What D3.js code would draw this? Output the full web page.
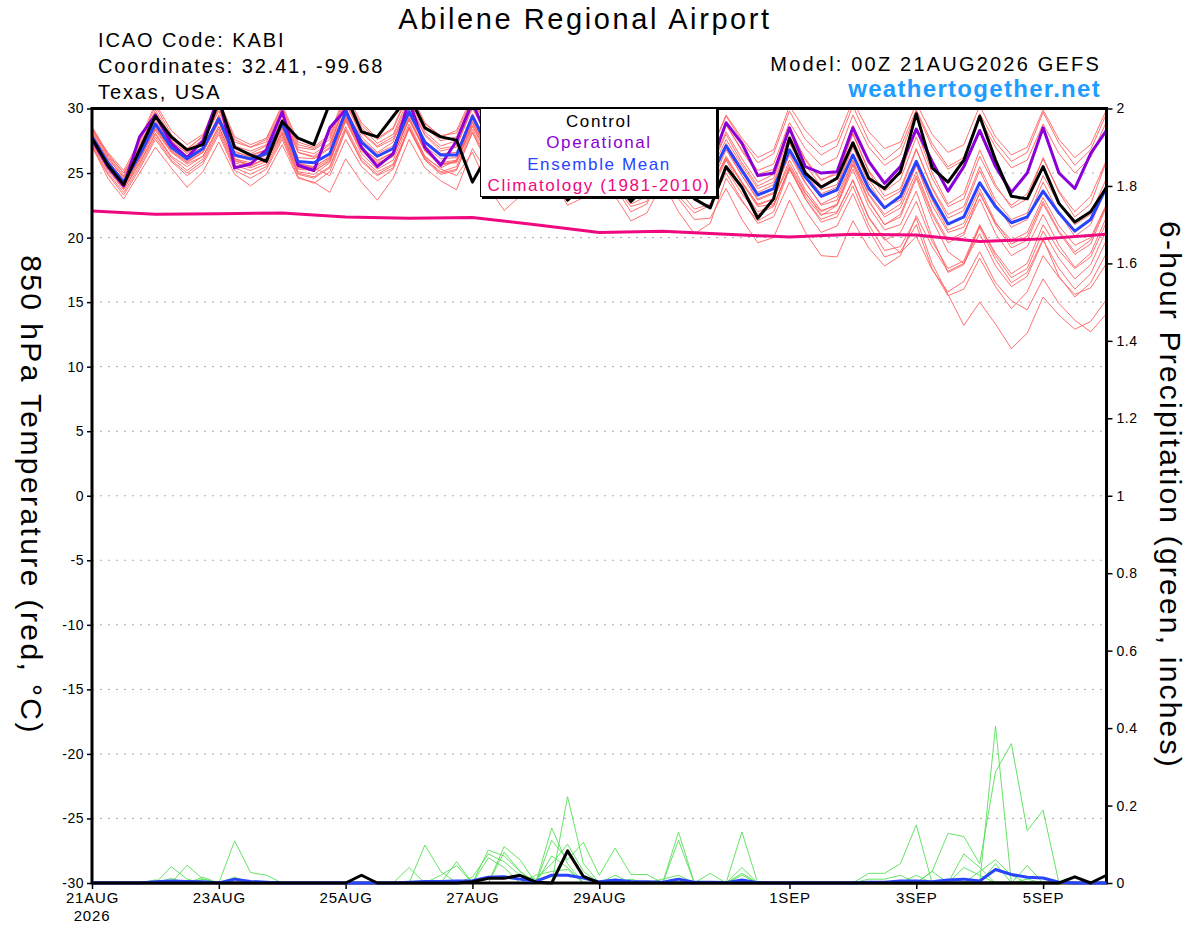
<!DOCTYPE html>
<html><head><meta charset="utf-8">
<script src="https://cdn.jsdelivr.net/npm/d3@7/dist/d3.min.js"></script>
<style>
body{margin:0;background:#fff;}
svg{display:block;font-family:"Liberation Sans",Arial,Helvetica,sans-serif;}
</style>
</head><body>
<svg id="chart" width="1200" height="927"></svg>
<script>
// ---------- DATA ----------
const forecastHours = [0,6,12,18,24,30,36,42,48,54,60,66,72,78,84,90,96,102,108,114,120,126,132,138,144,150,156,162,168,174,180,186,192,198,204,210,216,222,228,234,240,246,252,258,264,270,276,282,288,294,300,306,312,318,324,330,336,342,348,354,360,366,372,378,384];
const climHours = [0,24,48,72,96,120,144,168,192,216,240,264,288,312,336,360,384];
const climatology = [22.05,21.8,21.85,21.9,21.6,21.5,21.55,21.0,20.4,20.5,20.25,20.05,20.25,20.2,19.7,19.9,20.25];

const control = [27.7,25.6,24.1,26.8,29.4,27.8,26.8,27.2,30.6,27.0,26.4,25.9,29.0,27.7,27.2,30.4,31.0,28.2,27.8,29.4,31.0,28.5,27.8,27.55,24.3,26.5,24.5,25.5,27.5,25.0,22.9,24.0,27.0,24.5,22.8,24.0,26.5,24.5,23.0,22.3,25.5,23.9,21.5,23.0,27.7,25.0,23.9,24.6,27.35,24.6,23.8,25.1,29.6,25.4,24.3,26.0,29.4,26.0,23.2,23.0,25.5,22.65,21.2,22.0,23.9];
const operational = [27.6,25.5,24.0,27.8,29.5,27.3,26.2,27.5,31.0,25.4,25.7,26.8,29.75,25.6,25.2,28.5,29.9,27.0,25.5,26.5,30.6,27.0,25.6,27.5,30.5,27.5,26.0,27.0,29.5,27.0,25.5,26.5,29.0,26.5,25.0,26.0,28.5,26.0,24.8,25.5,28.9,27.3,24.8,25.0,28.5,25.5,25.0,25.1,28.5,25.9,24.2,25.5,28.4,25.9,23.6,25.5,28.3,25.5,23.5,25.0,28.5,25.0,23.8,26.5,28.3];
const ensembleMean = [27.8,25.8,24.3,26.4,28.8,27.0,26.1,26.9,29.2,26.4,26.1,26.5,28.85,25.9,25.8,26.5,29.75,27.4,26.3,26.9,29.75,27.4,26.4,26.4,29.4,27.0,25.8,26.3,28.8,26.6,25.3,25.8,28.3,26.0,24.8,25.3,27.8,25.6,24.3,24.6,27.1,25.2,23.3,23.8,26.8,24.7,23.2,23.7,26.4,23.8,22.3,23.2,25.9,23.2,21.05,21.6,24.25,22.4,21.15,21.6,23.6,21.9,20.5,21.4,23.9];

const member01 = [28.6,26.5,25.0,27.3,30.2,28.0,26.8,27.9,30.5,27.6,27.0,27.6,30.1,27.2,26.9,27.8,31.0,28.7,27.6,28.4,31.2,28.8,27.9,28.1,30.8,28.5,27.4,27.9,30.4,28.0,26.8,27.5,30.0,27.6,26.5,27.0,29.6,27.4,26.0,26.6,29.4,27.5,25.8,26.5,29.8,27.6,26.4,27.1,30.2,27.5,26.0,27.0,29.9,27.3,25.5,26.2,29.2,27.0,25.4,26.0,28.8,26.5,25.0,26.2,29.0];
const member02 = [27.0,24.9,23.3,25.3,27.6,25.9,24.8,25.7,28.0,25.2,24.6,25.3,27.6,24.7,24.2,25.1,28.3,25.9,24.8,25.4,28.4,26.0,24.9,25.2,28.2,25.8,24.4,25.0,27.6,25.2,23.8,24.6,27.2,24.9,23.5,24.0,26.7,24.3,22.9,23.4,26.0,23.8,22.0,22.5,25.4,23.0,21.4,21.9,24.5,21.5,19.8,20.4,22.8,19.7,17.6,18.2,21.0,18.6,16.9,17.6,20.5,18.4,16.8,17.9,20.6];
const member03 = [28.0,26.1,24.7,26.9,29.6,27.5,26.5,27.3,30.1,26.9,26.4,26.8,29.5,26.6,26.2,27.0,30.5,27.8,26.6,27.4,30.4,27.9,26.7,27.0,30.2,27.6,26.3,26.8,29.5,27.2,25.9,26.3,29.1,26.7,25.3,25.9,28.6,26.2,24.9,25.3,28.0,25.8,24.0,24.6,27.9,25.6,24.0,24.7,28.1,25.2,23.6,24.5,27.8,24.6,22.4,23.0,26.3,23.9,22.5,23.4,26.1,23.6,22.0,23.2,26.0];
const member04 = [27.5,25.5,24.0,26.0,28.3,26.6,25.7,26.3,28.6,25.9,25.7,26.0,28.2,25.3,25.2,25.9,29.0,26.8,25.8,26.3,29.1,26.7,25.6,25.9,28.7,26.4,25.0,25.6,28.0,25.8,24.4,25.1,27.5,25.1,23.9,24.5,26.9,24.8,23.4,23.7,26.1,24.2,22.4,22.6,25.3,23.0,21.2,21.6,24.0,21.0,19.0,19.3,21.5,18.0,15.6,13.2,15.0,13.3,11.4,12.6,15.4,14.0,12.9,13.5,15.2];
const member05 = [27.9,25.9,24.5,26.5,28.9,27.1,26.0,26.7,29.0,26.1,25.8,26.4,28.6,25.6,25.4,26.3,29.4,27.0,26.0,26.6,29.5,27.1,26.1,26.2,29.0,26.7,25.5,26.0,28.3,26.2,24.9,25.4,27.8,25.4,24.2,24.8,27.2,25.0,23.6,23.9,26.2,24.3,22.6,23.0,25.7,23.5,21.8,22.0,24.4,21.6,19.9,18.8,20.1,17.5,15.8,16.6,18.9,16.5,15.1,14.4,16.8,14.9,13.6,12.7,14.1];
const member06 = [28.3,26.4,25.0,26.9,29.3,27.4,26.6,27.4,29.8,26.9,26.5,27.1,29.6,26.6,26.3,27.2,30.3,28.1,27.0,27.6,30.3,28.0,26.9,27.1,30.0,27.7,26.5,27.1,29.6,27.4,26.2,26.7,29.3,27.0,25.9,26.4,29.1,26.9,25.6,26.0,28.7,26.8,25.2,25.7,28.9,26.9,25.6,26.2,29.5,27.0,25.6,26.4,29.8,27.0,25.3,26.0,29.6,27.4,25.9,26.6,29.7,27.3,25.6,26.8,29.6];
const member07 = [27.4,25.3,23.8,25.8,28.1,26.3,25.5,26.3,28.6,25.8,25.4,25.9,28.1,25.1,24.9,25.8,29.1,26.5,25.3,26.0,28.8,26.3,25.3,24.8,26.6,23.9,22.1,23.2,26.4,24.6,23.4,24.2,27.0,24.6,23.1,23.7,26.6,24.5,23.2,23.9,26.8,24.8,23.0,23.5,26.6,24.3,22.5,22.9,25.9,22.9,21.0,21.8,24.8,21.8,19.6,20.2,23.5,21.0,19.2,19.8,22.6,20.4,18.7,19.5,22.4];
const member08 = [28.4,26.6,25.2,27.5,30.4,28.3,27.2,28.0,30.7,27.8,27.2,27.7,30.3,27.4,27.0,28.0,31.2,28.9,27.7,28.5,31.4,28.9,27.8,28.3,31.0,28.6,27.2,27.8,30.2,27.8,26.4,27.0,29.4,26.9,25.5,26.0,28.5,26.2,24.9,25.4,28.2,26.1,24.3,24.9,28.3,26.0,24.4,25.1,28.7,26.0,24.2,24.9,28.4,25.0,22.6,23.4,26.8,24.1,22.3,23.0,26.2,23.5,21.6,22.6,25.9];
const member09 = [27.1,24.6,23.0,25.0,27.0,25.4,23.9,25.1,27.4,24.9,24.0,24.9,27.2,24.6,24.3,23.5,26.1,24.3,22.9,24.6,27.6,25.4,24.4,23.7,26.9,24.9,23.6,24.4,27.1,24.8,23.3,24.0,26.6,24.2,22.6,23.2,25.9,23.7,22.2,22.6,25.0,22.9,21.1,21.6,24.3,22.1,20.4,20.9,23.4,20.6,18.5,18.9,21.0,17.6,15.5,16.0,18.4,16.2,14.5,15.8,18.6,16.9,15.6,16.1,18.0];
const member10 = [27.6,25.7,24.2,26.2,28.5,26.8,26.0,26.9,29.4,26.6,26.3,26.8,29.2,26.2,26.1,26.9,30.0,27.6,26.5,27.1,30.0,27.5,26.5,26.6,29.6,27.2,26.0,26.5,29.0,26.8,25.6,26.1,28.7,26.3,25.1,25.5,28.2,25.9,24.6,25.0,27.6,25.6,23.8,24.3,27.5,25.2,23.7,24.1,27.2,24.5,22.9,23.6,26.8,23.9,21.8,22.4,25.5,22.9,21.4,21.9,24.8,22.6,21.0,21.8,24.6];
const member11 = [28.1,26.0,24.4,26.6,29.1,27.2,26.3,27.0,29.5,26.7,26.2,26.6,29.0,25.8,25.4,24.8,27.6,25.5,24.4,25.3,28.6,26.2,25.4,26.0,29.2,26.8,25.5,26.2,29.0,26.7,25.4,26.0,28.6,26.2,24.8,25.4,28.0,25.7,24.1,24.5,27.0,24.8,22.9,23.4,26.4,24.2,22.6,23.2,26.0,23.3,21.6,22.3,25.1,22.0,19.8,20.4,23.0,20.3,18.6,19.3,21.8,19.4,17.7,18.8,21.6];
const member12 = [28.2,26.2,24.6,27.0,29.9,27.8,26.9,27.8,30.3,27.4,27.0,27.4,29.9,27.0,26.8,27.6,30.8,28.5,27.3,28.0,30.9,28.6,27.5,27.8,30.7,28.4,27.1,27.7,30.4,28.1,26.8,27.4,30.1,27.7,26.4,26.9,29.5,27.1,25.7,26.1,28.8,26.7,24.9,25.3,28.5,26.1,24.5,24.9,28.0,25.1,23.2,23.8,26.9,23.8,21.5,22.1,25.2,22.6,20.8,21.4,24.3,21.9,20.1,21.0,23.9];
const member13 = [27.3,25.2,23.7,25.7,28.0,26.2,25.2,26.1,28.4,25.6,25.2,25.7,28.0,25.0,24.7,25.5,28.6,26.2,25.1,25.7,28.5,26.1,25.0,25.3,28.1,25.6,24.3,24.9,27.4,25.1,23.5,24.0,26.5,24.0,22.4,22.8,25.4,23.2,21.9,22.5,25.3,23.4,21.8,22.4,25.5,23.4,22.0,22.6,25.6,22.8,21.0,21.6,24.6,21.4,18.9,18.0,20.3,17.8,16.2,17.0,19.8,17.6,16.0,17.2,19.8];
const member14 = [27.7,25.6,24.1,26.1,28.4,26.7,25.8,26.6,28.9,26.1,25.6,26.1,28.4,25.4,25.3,26.1,29.3,26.9,25.7,26.3,29.2,26.8,25.7,25.8,28.6,26.3,24.9,25.5,28.1,25.9,24.6,25.2,27.9,25.6,24.3,24.9,27.7,25.5,24.1,24.6,27.3,25.4,23.5,24.1,27.3,25.0,23.4,23.9,27.0,24.2,22.4,22.9,25.6,22.5,20.4,20.8,23.4,21.1,19.8,20.4,23.1,20.9,19.4,20.0,22.6];
const member15 = [28.5,26.3,24.8,27.1,29.7,27.6,26.7,27.6,30.0,27.1,26.7,27.2,29.7,26.8,26.5,27.3,30.6,28.2,27.1,27.8,30.6,28.2,27.1,27.5,30.3,28.0,26.8,27.4,30.0,27.7,26.5,27.2,29.8,27.4,26.2,26.8,29.5,27.3,26.1,26.6,29.5,27.7,26.2,26.8,30.2,28.3,27.0,27.6,30.6,28.2,26.9,27.4,30.4,28.0,26.6,27.2,30.2,27.8,26.4,27.0,29.9,27.6,26.2,27.2,29.9];
const member16 = [27.2,25.0,23.5,25.5,27.8,26.0,25.0,25.9,28.2,25.4,24.9,25.5,27.8,24.9,24.6,25.4,28.4,26.0,24.9,25.6,28.5,26.1,25.1,25.5,28.4,26.0,24.8,25.3,27.8,25.5,24.1,24.7,27.3,24.9,23.6,24.1,26.8,24.6,23.2,23.6,26.3,24.3,22.5,23.0,26.0,23.7,22.1,22.5,25.3,22.4,20.6,21.0,23.6,20.0,17.3,17.9,20.8,18.3,16.5,17.3,19.9,17.0,15.4,16.5,18.8];
const member17 = [27.9,25.6,24.0,26.2,28.6,26.7,25.9,26.6,29.0,26.0,25.5,26.2,28.5,25.5,25.1,26.0,29.2,26.7,25.6,26.3,29.2,26.8,25.7,25.9,28.9,26.5,25.3,25.7,28.2,25.8,24.2,24.5,26.8,23.9,22.0,22.6,25.2,23.0,21.4,21.5,23.8,21.4,19.6,20.0,22.9,20.4,18.6,18.5,21.3,19.2,17.8,18.6,21.7,19.3,17.4,18.0,20.9,18.8,17.2,18.0,21.0,19.0,17.6,18.5,21.2];
const member18 = [27.5,25.4,23.9,26.0,28.8,26.9,26.1,26.8,29.1,26.3,26.0,26.4,28.7,25.7,25.5,26.2,29.4,27.0,25.9,26.6,29.3,26.9,25.8,26.0,28.9,26.6,25.2,25.4,27.5,24.6,22.5,23.1,25.9,23.2,21.3,21.9,24.3,22.0,20.3,21.1,24.6,22.8,21.3,22.0,25.3,23.2,21.7,22.5,25.7,23.4,21.8,22.6,25.6,22.9,20.6,21.1,23.8,21.2,19.5,20.1,22.8,20.5,18.9,19.8,22.5];

const precipMember01 = [0,0,0,0,0,0.042,0.01,0, 0,0.109,0.027,0.02,0,0,0,0, 0,0,0,0,0,0,0,0, 0,0,0.094,0.06,0,0,0.223,0.05, 0,0,0,0,0,0.132,0,0, 0,0,0,0,0,0,0,0, 0,0.025,0.025,0.05,0.15,0,0,0, 0,0.405,0,0,0,0,0,0, 0];
const precipMember02 = [0,0,0,0,0,0,0.046,0.01, 0,0,0,0,0,0,0,0, 0,0,0,0,0,0.098,0.03,0, 0,0,0,0,0,0.142,0.05,0, 0,0,0,0,0,0,0,0, 0,0.132,0,0,0,0,0,0, 0,0,0,0,0,0.03,0.128,0.12, 0.05,0.287,0.36,0.135,0.188,0,0,0, 0];
const precipMember03 = [0,0,0,0,0.008,0,0,0.01, 0,0.015,0,0,0,0,0,0, 0,0,0,0,0.04,0,0,0.055, 0,0.085,0.07,0.03,0,0.11,0.06,0.105, 0.02,0.09,0.022,0.022,0,0,0,0, 0,0,0,0,0,0,0,0, 0,0.01,0.01,0.02,0,0,0,0.075, 0.04,0,0,0,0,0,0,0, 0];
const precipMember04 = [0,0,0,0,0,0,0,0, 0,0,0,0,0,0,0,0, 0,0,0,0,0,0,0,0, 0.015,0.075,0.055,0.02,0.01,0.05,0.1,0.03, 0,0,0.01,0,0,0.11,0,0, 0,0.04,0,0,0,0,0,0, 0,0,0,0,0,0.03,0,0, 0,0.05,0,0.045,0,0,0,0, 0];
const precipMember05 = [0,0,0,0,0,0.012,0,0.015, 0,0,0,0,0,0,0,0, 0,0,0,0,0,0,0.02,0.045, 0,0,0.08,0.03,0,0.07,0.04,0, 0,0.02,0,0,0,0,0,0.025, 0,0.02,0,0,0,0,0,0, 0,0,0,0,0.02,0,0,0, 0.03,0.06,0.02,0,0,0,0,0, 0];
const precipMember06 = [0,0,0,0,0,0,0,0, 0,0,0,0,0,0,0,0, 0,0,0,0,0,0,0,0, 0,0.065,0.04,0,0.02,0.03,0.035,0, 0,0,0,0,0.01,0.02,0,0, 0,0.025,0,0,0,0,0,0, 0,0,0,0,0,0,0,0.04, 0.02,0,0,0.01,0,0,0,0, 0];
const precipMean = [0,0,0,0,0.003,0.005,0.004,0.003, 0,0.01,0.004,0.002,0,0,0,0, 0,0,0,0,0.002,0.004,0.004,0.005, 0.006,0.015,0.016,0.01,0.004,0.02,0.02,0.013, 0.003,0.008,0.004,0.003,0.002,0.01,0.002,0.002, 0.001,0.008,0.001,0,0,0,0,0, 0,0.002,0.002,0.005,0.005,0.003,0.008,0.01, 0.005,0.035,0.022,0.015,0.013,0.002,0,0, 0];
const precipControl = [0,0,0,0,0,0,0,0, 0,0,0,0,0,0,0,0, 0,0.02,0,0,0,0,0,0, 0.003,0.012,0.012,0.02,0.002,0,0.083,0.017, 0,0,0,0,0,0,0,0, 0,0,0,0,0,0,0,0, 0,0,0,0,0,0,0,0, 0,0,0,0,0,0,0.016,0, 0.02];

const tempTicks = [-30,-25,-20,-15,-10,-5,0,5,10,15,20,25,30];
const precipTicks = [0,0.2,0.4,0.6,0.8,1,1.2,1.4,1.6,1.8,2];
const dateTickHours = [0,48,96,144,192,264,312,360];
const dateTickLabels = ["21AUG","23AUG","25AUG","27AUG","29AUG","1SEP","3SEP","5SEP"];
const legendLabels = ["Control","Operational","Ensemble Mean","Climatology (1981-2010)"];

const members = [member01,member02,member03,member04,member05,member06,member07,member08,member09,member10,member11,member12,member13,member14,member15,member16,member17,member18];
const precipMembers = [precipMember01,precipMember02,precipMember03,precipMember04,precipMember05,precipMember06];

// ---------- DRAW ----------
const L = 92, R = 1106.5, T = 108.5, B = 883;
const svg = d3.select("#chart");
const x = d3.scaleLinear().domain([0,384]).range([L,R]);
const yT = d3.scaleLinear().domain([-30,30]).range([B,T]);
const yP = d3.scaleLinear().domain([0,2]).range([B,T]);

const colors = {member:"#ff6262", precip:"#55e055", control:"#000000", oper:"#8a00d6", mean:"#2844ff", clim:"#f0087f", site:"#1e9cff"};

svg.append("defs").append("clipPath").attr("id","plotclip")
  .append("rect").attr("x",L).attr("y",T).attr("width",R-L).attr("height",B-T);

// grid
svg.append("g").selectAll("line").data(tempTicks.filter(t=>t>-30 && t<30)).join("line")
  .attr("x1",L).attr("x2",R).attr("y1",d=>yT(d)).attr("y2",d=>yT(d))
  .attr("stroke","#aaaaaa").attr("stroke-width",1).attr("stroke-dasharray","2,6");

const plot = svg.append("g").attr("clip-path","url(#plotclip)");
const lineT = d3.line().x((d,i)=>x(forecastHours[i])).y(d=>yT(d));
const lineP = d3.line().x((d,i)=>x(forecastHours[i])).y(d=>yP(d));
const lineC = d3.line().x((d,i)=>x(climHours[i])).y(d=>yT(d));

plot.selectAll("path.mem").data(members).join("path").attr("class","mem")
  .attr("d",lineT).attr("fill","none").attr("stroke",colors.member).attr("stroke-width",0.9);
plot.selectAll("path.pm").data(precipMembers).join("path").attr("class","pm")
  .attr("d",lineP).attr("fill","none").attr("stroke",colors.precip).attr("stroke-width",0.9);

plot.append("path").attr("d",lineC(climatology)).attr("fill","none").attr("stroke",colors.clim).attr("stroke-width",3);
plot.append("path").attr("d",lineT(operational)).attr("fill","none").attr("stroke",colors.oper).attr("stroke-width",3).attr("stroke-linejoin","round");
plot.append("path").attr("d",lineT(ensembleMean)).attr("fill","none").attr("stroke",colors.mean).attr("stroke-width",3).attr("stroke-linejoin","round");
plot.append("path").attr("d",lineT(control)).attr("fill","none").attr("stroke",colors.control).attr("stroke-width",3).attr("stroke-linejoin","round");

// axes
const axL = svg.append("g").attr("transform",`translate(${L},0)`)
  .call(d3.axisLeft(yT).tickValues(tempTicks).tickSize(5).tickPadding(3).tickFormat(d=>String(d)));
const axR = svg.append("g").attr("transform",`translate(${R},0)`)
  .call(d3.axisRight(yP).tickValues(precipTicks).tickSize(6).tickPadding(4).tickFormat(d=>String(+d.toFixed(1))));
const axB = svg.append("g").attr("transform",`translate(0,${B})`)
  .call(d3.axisBottom(x).tickValues(dateTickHours).tickSize(6).tickPadding(3).tickFormat((d,i)=>dateTickLabels[i]));
[axL,axR,axB].forEach(a=>{
  a.select(".domain").remove();
  a.selectAll("line").attr("stroke","#000").attr("stroke-width",1.5);
  a.selectAll("text").attr("font-size","14px").attr("fill","#000").attr("letter-spacing","0.5px").attr("font-family","Liberation Sans, Arial, sans-serif");
});
axB.selectAll("text").attr("font-size","15px").attr("letter-spacing","0.8px");
svg.append("text").attr("x",x(0)).attr("y",921).attr("text-anchor","middle").attr("font-size","15px").attr("letter-spacing","0.8px").text("2026");

// frame
svg.append("rect").attr("x",L).attr("y",T).attr("width",R-L).attr("height",B-T)
  .attr("fill","none").attr("stroke","#000").attr("stroke-width",3);
// precipitation mean & control on top
const pg2 = svg.append("g");
pg2.append("path").attr("d",lineP(precipMean)).attr("fill","none").attr("stroke",colors.mean).attr("stroke-width",3).attr("stroke-linejoin","round");
pg2.append("path").attr("d",lineP(precipControl)).attr("fill","none").attr("stroke",colors.control).attr("stroke-width",3).attr("stroke-linejoin","round");

// legend
const lg = svg.append("g");
lg.append("rect").attr("x",482).attr("y",110).attr("width",237).attr("height",89).attr("fill","#000");
lg.append("rect").attr("x",480.5).attr("y",108.5).attr("width",236).attr("height",88).attr("fill","#fff").attr("stroke","#000").attr("stroke-width",1);
const legColors = [colors.control, colors.oper, colors.mean, colors.clim];
lg.selectAll("text").data(legendLabels).join("text")
  .attr("x",599).attr("y",(d,i)=>127+i*21.3).attr("text-anchor","middle")
  .attr("font-size","17px").attr("letter-spacing","1.6px").attr("fill",(d,i)=>legColors[i]).text(d=>d);

// titles
svg.append("text").attr("x",585).attr("y",29).attr("text-anchor","middle").attr("font-size","29px").attr("letter-spacing","2.6px").text("Abilene Regional Airport");
const hdr = ["ICAO Code: KABI","Coordinates: 32.41, -99.68","Texas, USA"];
svg.selectAll("text.hdr").data(hdr).join("text").attr("class","hdr")
  .attr("x",98).attr("y",(d,i)=>47+i*26).attr("font-size","20px").attr("letter-spacing","1.9px").text(d=>d);
svg.append("text").attr("x",1101).attr("y",71).attr("text-anchor","end").attr("font-size","20px").attr("letter-spacing","2.2px").text("Model: 00Z 21AUG2026 GEFS");
svg.append("text").attr("x",1101).attr("y",97).attr("text-anchor","end").attr("font-size","24px").attr("letter-spacing","1.3px").attr("font-weight","bold").attr("fill",colors.site).text("weathertogether.net");

svg.append("text").attr("transform","translate(21,495) rotate(90)").attr("text-anchor","middle").attr("font-size","30px").attr("letter-spacing","2.4px").text("850 hPa Temperature (red, °C)");
svg.append("text").attr("transform","translate(1160,495) rotate(90)").attr("text-anchor","middle").attr("font-size","30px").attr("letter-spacing","2.2px").text("6-hour Precipitation (green, inches)");
</script>
</body></html>
